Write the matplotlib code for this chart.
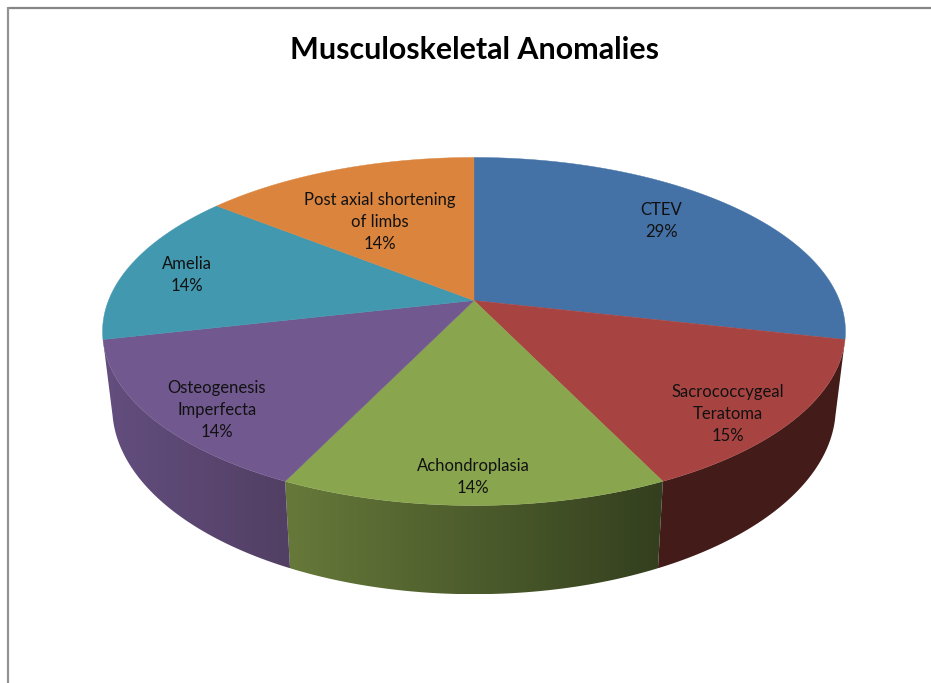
import numpy as np
import matplotlib
matplotlib.use("Agg")
import matplotlib.pyplot as plt
from matplotlib.colors import to_rgb

# --- data ---
title = "Musculoskeletal Anomalies"
categories = ["CTEV", "Sacrococcygeal\nTeratoma", "Achondroplasia",
              "Osteogenesis\nImperfecta", "Amelia", "Post axial shortening\nof limbs"]
case_counts = [2, 1, 1, 1, 1, 1]
percent_labels = ["29%", "15%", "14%", "14%", "14%", "14%"]

# --- style ---
top_colors = ["#4471A6", "#A74442", "#89A54E", "#71588F", "#4198AF", "#DB843D"]
wall_left = [None, "#441C1A", "#67793A", "#634E7F", None, None]
wall_right = [None, "#431B19", "#333F1E", "#523F63", None, None]
label_xy = [(661, 221), (728, 414), (473, 477), (217, 410), (187, 275), (380, 222)]

W, H = 931, 683
fig = plt.figure(figsize=(W / 100, H / 100), dpi=100, facecolor="white")
ax = fig.add_axes([0, 0, 1, 1])
ax.axis("off")

CX, CY_TOP, CY_BOT = 474, 300.5, 374
K, BX_TOP, BX_BOT, AY_TOP, AY_BOT = 0.178, 365.5, 356, 168.5, 181


def project(theta, cy, bx, ay):
    x, y = np.sin(theta), np.cos(theta)
    d = 1 + K * y
    return CX + bx * x / d, cy - ay * y / d


fractions = np.array(case_counts, dtype=float) / sum(case_counts)
edges = np.concatenate([[0], np.cumsum(fractions)]) * 2 * np.pi

# side wall: horizontal colour ramp clipped to the wall outline
for i in range(len(case_counts)):
    if wall_left[i] is None:
        continue
    t = np.linspace(edges[i], edges[i + 1], 121)
    xt, yt = project(t, CY_TOP, BX_TOP, AY_TOP)
    xb, yb = project(t, CY_BOT, BX_BOT, AY_BOT)
    px = np.r_[xt, xb[::-1]]
    py = np.r_[yt, yb[::-1]]
    lo, hi = px.min(), px.max()
    ramp = np.linspace(0, 1, 256)[None, :, None]
    cl, cr = np.array(to_rgb(wall_left[i])), np.array(to_rgb(wall_right[i]))
    img = cl + (cr - cl) * ramp
    patch, = ax.fill(px, py, facecolor=wall_right[i], edgecolor="none", zorder=1.5)
    patch.set_visible(False)
    im = ax.imshow(img, extent=(lo, hi, py.max(), py.min()), aspect="auto", zorder=2,
                   interpolation="bilinear")
    im.set_clip_path(patch.get_path(), patch.get_transform())

# top face
for i in range(len(case_counts)):
    t = np.linspace(edges[i], edges[i + 1], 121)
    xt, yt = project(t, CY_TOP, BX_TOP, AY_TOP)
    ax.fill(np.r_[CX, xt], np.r_[CY_TOP, yt], facecolor=top_colors[i],
            edgecolor=top_colors[i], linewidth=0.3, zorder=3)

# labels
for cat, pct, (lx, ly) in zip(categories, percent_labels, label_xy):
    ax.text(lx, ly, f"{cat}\n{pct}", ha="center", va="center", family="Lato",
            fontsize=12, color="#111111", linespacing=1.48, zorder=4)

ax.text(474.5, 50, title, ha="center", va="center", family="Lato",
        fontsize=21.9, fontweight="bold", color="black", zorder=4)

# chart frame (only top and left lie inside the picture)
ax.plot([8, W], [7.7, 7.7], color="#868686", lw=1.6, zorder=1, solid_capstyle="butt")
ax.plot([8, 8], [7, H], color="#949494", lw=1.6, zorder=1, solid_capstyle="butt")

ax.set_xlim(0, W)
ax.set_ylim(H, 0)
fig.savefig("out.png", dpi=100)
